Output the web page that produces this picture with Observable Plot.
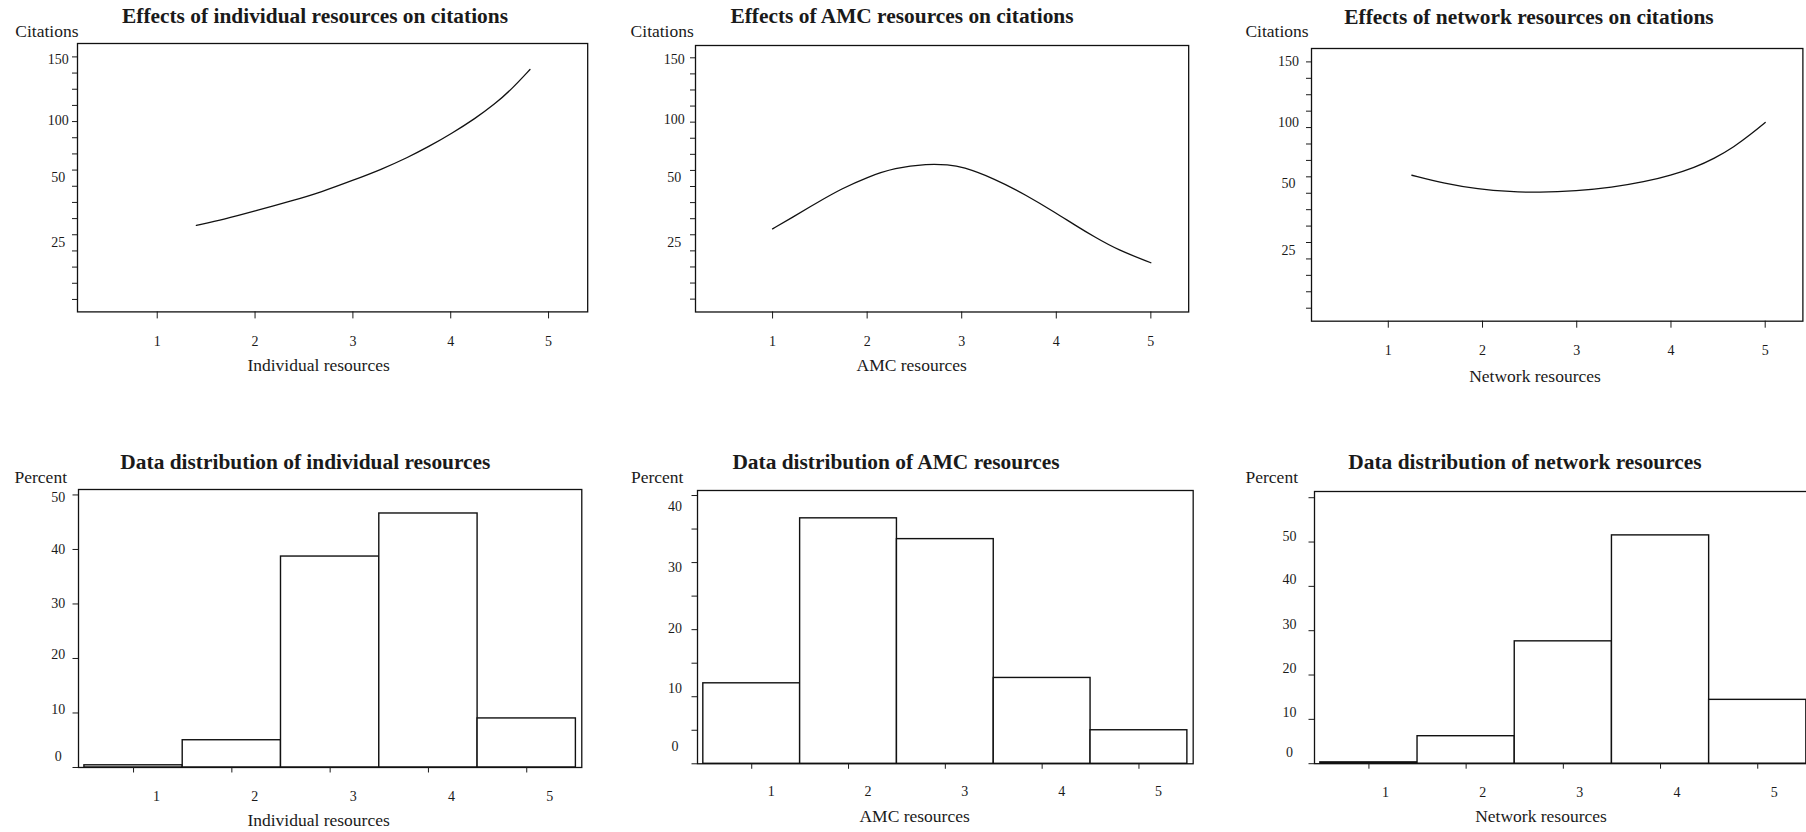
<!DOCTYPE html>
<html><head><meta charset="utf-8">
<script src="https://cdn.jsdelivr.net/npm/d3@7"></script>
<script src="https://cdn.jsdelivr.net/npm/@observablehq/plot@0.6"></script>
<style>
html,body{margin:0;padding:0;background:#fff;overflow:hidden;}
#page{position:relative;width:1806px;height:832px;overflow:hidden;background:#fff;
  font-family:"Liberation Serif","Times New Roman",serif;color:#1a1a1a;}
.panel{position:absolute;}
.t{position:absolute;white-space:nowrap;line-height:1;}
.title{font-weight:bold;font-size:21.4px;transform:translate(-50%,-50%);}
.yname{font-size:17.5px;transform:translate(-100%,-50%);}
.xname{font-size:17.5px;transform:translate(-50%,-50%);}
</style></head><body><div id="page"></div><script>
// ---------------- data ----------------
const levels = [1, 2, 3, 4, 5];
const xTickLabels = ["1", "2", "3", "4", "5"];
const citationTickLabels = [25, 50, 100, 150];

// effect curves (resource level, predicted citations)
const individualX = [1.40, 1.69, 2.00, 2.37, 2.68, 3.00, 3.29, 3.56, 3.77, 4.01, 4.25, 4.45, 4.62, 4.81];
const individualCitations = [31.7, 34.0, 37.2, 41.0, 44.5, 49.0, 57.2, 67.7, 77.0, 88.8, 101.8, 113.5, 125.5, 141.8];
const amcX = [1.00, 1.20, 1.48, 1.73, 2.00, 2.29, 2.64, 2.86, 3.00, 3.35, 3.67, 4.00, 4.19, 4.41, 4.65, 5.00];
const amcCitations = [30.3, 34.5, 40.5, 45.6, 50.0, 58.1, 61.6, 60.7, 59.3, 49.4, 43.4, 36.3, 31.9, 27.1, 22.3, 17.4];
const networkX = [1.25, 1.60, 1.95, 2.30, 2.59, 3.00, 3.37, 3.72, 4.00, 4.25, 4.46, 4.67, 4.85, 5.00];
const networkCitations = [56.8, 50.0, 47.9, 46.9, 46.6, 47.2, 48.5, 51.3, 56.8, 63.2, 70.6, 80.2, 90.7, 100.3];

// distributions (percent per level)
const individualPct = [0.4, 5.0, 38.7, 46.6, 9.0];
const amcPct = [12.0, 36.6, 33.5, 12.8, 5.0];
const networkPct = [0.3, 6.2, 27.6, 51.5, 14.4];

// percent axis tick labels and where they sit (percent units)
const individualPctLabels = ["0", "10", "20", "30", "40", "50"];
const individualPctLabelAt = [2.1, 10.6, 20.8, 30.1, 39.9, 49.6];
const amcPctLabels = ["0", "10", "20", "30", "40"];
const amcPctLabelAt = [2.6, 11.2, 20.2, 29.3, 38.3];
const networkPctLabels = ["0", "10", "20", "30", "40", "50"];
const networkPctLabelAt = [2.5, 11.5, 21.5, 31.5, 41.5, 51.2];

// ---------------- layout ----------------
const FONT = "'Liberation Serif','Times New Roman',serif";
const page = document.getElementById("page");
function place(node, left, top) {
  node.classList.add("panel");
  node.style.left = left + "px";
  node.style.top = top + "px";
  page.appendChild(node);
}
function label(cls, text, x, y) {
  const d = document.createElement("div");
  d.className = "t " + cls;
  d.textContent = text;
  d.style.left = x + "px";
  d.style.top = y + "px";
  page.appendChild(d);
}

function effectPanel(cfg, xs, ys) {
  const mL = 60, mR = 6, mT = 8, mB = 50;
  const f = cfg.frame;
  const W = f.R - f.L, H = f.B - f.T;
  const width = W + mL + mR, height = H + mT + mB;
  const top = f.T - mT, left = f.L - mL;
  // fraction of the frame height (0 = bottom, 1 = top) at which each labelled value sits
  const frac = p => (f.B - p) / (f.B - f.T);
  const anchorFrac = cfg.anchorPx.map(frac);
  const toFrac = d3.scaleLinear().domain(citationTickLabels).range(anchorFrac);   // piecewise axis
  const fromFrac = d3.scaleLinear().domain(anchorFrac).range(citationTickLabels);
  const ticks = d3.range(16).map(i => fromFrac(frac(cfg.tick0 + i * cfg.tickStep)));
  const pts = xs.map((x, i) => ({x, y: ys[i]}));
  const chart = Plot.plot({
    width, height, marginLeft: mL, marginRight: mR, marginTop: mT, marginBottom: mB,
    style: {fontFamily: FONT, background: "transparent", color: "#1a1a1a", overflow: "visible"},
    x: {domain: [0.185, 5.40], label: null},
    y: {domain: [0, 1], transform: v => toFrac(v), label: null},
    marks: [
      Plot.axisX(levels, {tickSize: 7, tickFormat: () => "", label: null}),
      Plot.axisY(ticks, {tickSize: 5, tickFormat: () => "", label: null}),
      Plot.text(levels, {x: d => d, frameAnchor: "bottom", dy: cfg.xLabelDy, text: (d, i) => xTickLabels[i], fontSize: 14, fill: "#1a1a1a"}),
      Plot.text(citationTickLabels, {y: d => d, frameAnchor: "left", dx: -cfg.labelOffset, textAnchor: "middle", text: d => String(d), fontSize: 14, fill: "#1a1a1a"}),
      Plot.frame({stroke: "#111", strokeWidth: 1.3}),
      Plot.line(pts, {x: "x", y: "y", stroke: "#111", strokeWidth: 1.3, curve: "basis"})
    ]
  });
  place(chart, left, top);
}

function distPanel(cfg, pct, labelText, labelAt) {
  const mL = 60, mR = 6, mT = 8, mB = 50;
  const f = cfg.frame;
  const W = f.R - f.L, H = f.B - f.T;
  const width = W + mL + mR, height = H + mT + mB;
  const top = f.T - mT, left = f.L - mL;
  const bars = levels.map((l, i) => ({level: l, pct: pct[i]}));
  const chart = Plot.plot({
    width, height, marginLeft: mL, marginRight: mR, marginTop: mT, marginBottom: mB,
    style: {fontFamily: FONT, background: "transparent", color: "#1a1a1a", overflow: "visible"},
    x: {domain: [0.44, 5.56], label: null},
    y: {domain: [0, cfg.yMax], label: null},
    marks: [
      Plot.rect(bars, {x1: d => d.level - 0.5, x2: d => d.level + 0.5, y1: 0, y2: "pct", fill: "white", stroke: "#111", strokeWidth: 1.4}),
      Plot.frame({stroke: "#111", strokeWidth: 1.3}),
      Plot.axisX(levels, {tickSize: 5.5, tickFormat: () => "", label: null}),
      Plot.axisY(d3.range(0, cfg.yMax, cfg.yStep), {tickSize: 5.5, tickFormat: () => "", label: null}),
      Plot.text(levels, {x: d => d, frameAnchor: "bottom", dy: cfg.xLabelDy, dx: cfg.xLabelDx, text: (d, i) => xTickLabels[i], fontSize: 14, fill: "#1a1a1a"}),
      Plot.text(labelAt, {y: d => d, frameAnchor: "left", dx: -cfg.labelOffset, textAnchor: "middle", text: (d, i) => labelText[i], fontSize: 14, fill: "#1a1a1a"})
    ]
  });
  place(chart, left, top);
}

// top row
effectPanel({frame: {L: 76.5, T: 43.3, R: 586.7, B: 311.7}, anchorPx: [242.5, 177.5, 120.5, 59.3], tick0: 56.7, tickStep: 16.17, labelOffset: 19.3, xLabelDy: 34}, individualX, individualCitations);
effectPanel({frame: {L: 694.5, T: 45, R: 1187.7, B: 311.5}, anchorPx: [242.3, 176.7, 119, 59.3], tick0: 57.3, tickStep: 16.09, labelOffset: 21.3, xLabelDy: 34}, amcX, amcCitations);
effectPanel({frame: {L: 1310.5, T: 48.3, R: 1801.9, B: 321}, anchorPx: [250, 183.3, 122.7, 61.7], tick0: 61.7, tickStep: 16.42, labelOffset: 23, xLabelDy: 34}, networkX, networkCitations);

// bottom row
distPanel({frame: {L: 77.7, T: 489.3, R: 581, B: 767.3}, yMax: 51.0, yStep: 10, labelOffset: 20.2, xLabelDx: 23, xLabelDy: 34}, individualPct, individualPctLabels, individualPctLabelAt);
distPanel({frame: {L: 696.7, T: 490, R: 1192.4, B: 763.3}, yMax: 40.75, yStep: 5, labelOffset: 22.5, xLabelDx: 19.5, xLabelDy: 32}, amcPct, amcPctLabels, amcPctLabelAt);
distPanel({frame: {L: 1313.9, T: 490.5, R: 1811.6, B: 762.7}, yMax: 61.4, yStep: 10, labelOffset: 25, xLabelDx: 16.5, xLabelDy: 33}, networkPct, networkPctLabels, networkPctLabelAt);

// titles and axis names
label("title", "Effects of individual resources on citations", 315, 17.3);
label("title", "Effects of AMC resources on citations", 902, 17.3);
label("title", "Effects of network resources on citations", 1529, 18.3);
label("title", "Data distribution of individual resources", 305.4, 463.3);
label("title", "Data distribution of AMC resources", 896, 463.3);
label("title", "Data distribution of network resources", 1525, 463.3);
label("yname", "Citations", 78.5, 32.3);
label("yname", "Citations", 693.8, 32.3);
label("yname", "Citations", 1308.6, 32.3);
label("yname", "Percent", 67, 477.7);
label("yname", "Percent", 683.4, 477.7);
label("yname", "Percent", 1298, 477.7);
label("xname", "Individual resources", 318.6, 365.5);
label("xname", "AMC resources", 911.7, 365.5);
label("xname", "Network resources", 1535, 376.5);
label("xname", "Individual resources", 318.6, 820.5);
label("xname", "AMC resources", 914.6, 816.5);
label("xname", "Network resources", 1541, 816.5);
</script></body></html>
